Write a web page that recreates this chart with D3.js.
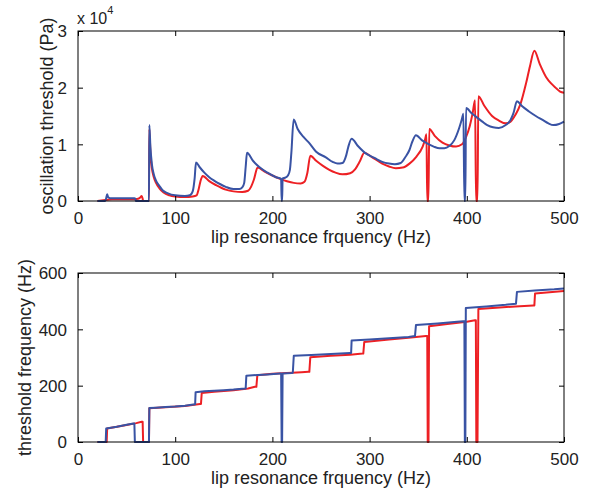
<!DOCTYPE html>
<html><head><meta charset="utf-8">
<script src="https://cdn.jsdelivr.net/npm/d3@7"></script>
<style>
html,body{margin:0;padding:0;background:#fff;}
text{font-family:"Liberation Sans",Arial,Helvetica,sans-serif;fill:#222;}
</style></head>
<body>
<svg id="chart" width="592" height="491"></svg>
<script>
// ---- data (frequency in Hz; threshold in units of 1e4 Pa) ----
const xTicks = [0, 100, 200, 300, 400, 500];
const yTicksTop = [0, 1, 2, 3];
const yTicksBottom = [0, 200, 400, 600];

const pressureBlue = [[20,0],[28,0],[29,0.05],[30,0.12],[31,0.07],[33,0.05],[45,0.05],[58,0.05],[59,0.04],[59.5,0],[73,0],[73.4,1.34],[74.5,0.95],[76,0.65],[78,0.47],[80,0.37],[84,0.26],[87,0.19],[92,0.14],[100,0.1],[110,0.09],[115,0.1],[118,0.17],[120,0.4],[121.4,0.68],[125,0.6],[130,0.5],[135,0.42],[140,0.36],[146,0.3],[152,0.25],[160,0.21],[166,0.21],[169,0.24],[171,0.32],[172.5,0.6],[173.9,0.85],[180,0.71],[186.5,0.6],[195,0.5],[203.7,0.42],[209,0.39],[209.5,0],[210,0],[210.5,0.4],[213,0.41],[216,0.45],[218,0.55],[219.5,0.85],[221.9,1.44],[226,1.27],[232,1.13],[238,1.02],[245,0.87],[255,0.77],[262,0.69],[267,0.66],[272,0.67],[276,0.81],[278,0.95],[281.5,1.10],[288,0.97],[296,0.84],[305,0.76],[313,0.69],[320,0.66],[326,0.65],[332,0.67],[337,0.78],[341,0.9],[344,1.05],[347.7,1.16],[354,1.07],[361,1.0],[366,0.96],[372,0.93],[377,0.93],[382,0.97],[387,1.07],[392,1.28],[395,1.45],[396.5,1.54],[397.5,0],[398.5,0],[399.2,1.64],[405,1.55],[410,1.48],[416,1.40],[421,1.34],[427,1.30],[433,1.29],[440,1.34],[445,1.43],[448,1.55],[451.6,1.76],[457,1.67],[464,1.58],[471,1.5],[478,1.43],[484,1.37],[489,1.34],[495,1.36],[500,1.40]];

const pressureRed = [[20,0],[30,0.02],[35,0.03],[55,0.03],[62,0.04],[64,0.06],[65.5,0.09],[66.5,0.04],[67,0],[73,0],[73.4,1.27],[74.5,0.85],[76,0.58],[78,0.42],[80,0.33],[84,0.22],[88,0.15],[94,0.1],[100,0.08],[110,0.07],[118,0.08],[122,0.1],[124,0.2],[126,0.35],[128.3,0.44],[135,0.35],[142,0.28],[152,0.2],[160,0.17],[169,0.16],[175,0.18],[178,0.25],[181,0.38],[184.8,0.59],[192,0.52],[200,0.45],[208,0.39],[215,0.35],[222,0.32],[229,0.31],[233,0.34],[236,0.5],[239,0.8],[245,0.71],[252,0.62],[258.6,0.55],[265,0.5],[272,0.47],[280,0.49],[285,0.56],[290,0.7],[294.6,0.85],[302,0.78],[313,0.66],[320,0.61],[327,0.58],[334,0.59],[341,0.66],[348,0.78],[354.6,0.96],[357,1.08],[358.5,1.18],[359.3,0],[360.5,0],[361.4,1.27],[367,1.15],[375,1.03],[382,0.98],[389,0.96],[395,1.0],[399,1.12],[403,1.32],[406,1.55],[408.5,1.78],[409.5,0],[411,0],[411.9,1.85],[418,1.68],[426,1.5],[433,1.42],[440,1.37],[445,1.4],[450,1.52],[455,1.7],[461,2.08],[465,2.38],[469.5,2.65],[475,2.42],[481.5,2.19],[487,2.07],[492,1.99],[496,1.93],[500,1.91]];

const freqBlue = [[20,0],[28.5,0],[29,48],[40,54],[50,61],[57,66],[58,66],[58.5,0],[73,0],[73.4,121],[80,122],[90,124],[100,126],[110,129],[118.6,133],[120.5,134],[121,177],[130,180],[140,182],[150,184],[160,186],[171.8,190],[172.5,190],[173.2,235],[185,238],[195,240],[207.8,243],[209,243],[209.5,0],[210,0],[210.5,243],[220,245],[221,246],[222,306],[240,309],[260,312],[279.8,316],[281,316],[281.5,360],[300,364],[320,368],[340,373],[346.7,376],[347.7,415],[370,421],[390,427],[396.4,429],[397.5,429],[398,0],[398.5,0],[399,476],[420,481],[440,487],[450.6,491],[451.6,533],[470,538],[490,542],[500,545]];

const freqRed = [[20,0],[29.5,0],[30,48],[40,54],[50,60],[60,67],[65.5,72],[66.5,72],[67,0],[73,0],[73.4,120],[90,123],[110,128],[125.5,135],[126.5,135],[127.3,174],[140,178],[160,184],[175,190],[182,196],[183.5,196],[184.5,237],[200,242],[215,245],[230,248],[237,249],[238,249],[239,301],[260,306],[280,310],[292.9,314],[293.5,314],[294.5,355],[320,364],[340,370],[358,376],[359.3,376],[359.8,0],[360.6,0],[361.2,411],[380,419],[400,427],[408.4,432],[409.3,432],[409.8,0],[411,0],[411.9,472],[430,477],[450,481],[468.4,485],[469.5,485],[470.2,527],[485,532],[500,536]];

const RED = "#ed2024", BLUE = "#3953a4";
const svg = d3.select("#chart");

function panel(top, bottom, yDomain, yTicks, series, yLabel, yLabelX, curve) {
  const L = 78, R = 564;
  const x = d3.scaleLinear().domain([0, 500]).range([L, R]);
  const y = d3.scaleLinear().domain(yDomain).range([bottom, top]);
  const g = svg.append("g");
  const line = d3.line().curve(curve).x(d => x(d[0])).y(d => y(d[1]));
  series.forEach(s => {
    g.append("path").datum(s.data).attr("d", line)
      .attr("fill", "none").attr("stroke", s.color).attr("stroke-width", 2)
      .attr("stroke-linejoin", "round");
  });
  g.append("rect").attr("x", L).attr("y", top).attr("width", R - L).attr("height", bottom - top)
    .attr("fill", "none").attr("stroke", "#000").attr("stroke-width", 1);
  const fs = "17px";
  const fmt = d3.format("d");
  const xb = g.append("g").attr("transform", `translate(0,${bottom})`)
    .call(d3.axisBottom(x).tickValues(xTicks).tickFormat(fmt).tickSizeInner(-5).tickSizeOuter(0).tickPadding(11));
  const xt = g.append("g").attr("transform", `translate(0,${top})`)
    .call(d3.axisTop(x).tickValues(xTicks).tickSizeInner(-5).tickSizeOuter(0).tickFormat(""));
  const yl = g.append("g").attr("transform", `translate(${L},0)`)
    .call(d3.axisLeft(y).tickValues(yTicks).tickFormat(fmt).tickSizeInner(-5).tickSizeOuter(0).tickPadding(11));
  const yr = g.append("g").attr("transform", `translate(${R},0)`)
    .call(d3.axisRight(y).tickValues(yTicks).tickSizeInner(-5).tickSizeOuter(0).tickFormat(""));
  [xb, xt, yl, yr].forEach(a => {
    a.select(".domain").remove();
    a.selectAll("line").attr("stroke", "#000");
    a.selectAll("text").attr("font-size", fs).attr("fill", "#222")
      .attr("font-family", '"Liberation Sans",Arial,sans-serif');
  });
  yl.selectAll("text").attr("dy", "0.35em");
  g.append("text").attr("x", (L + R) / 2).attr("y", bottom + 42)
    .attr("text-anchor", "middle").attr("font-size", "18px").text("lip resonance frquency (Hz)");
  g.append("text").attr("transform", `translate(${yLabelX},${(top + bottom) / 2}) rotate(-90)`)
    .attr("text-anchor", "middle").attr("font-size", "18px").text(yLabel);
}

panel(31, 201, [0, 3], yTicksTop,
  [{data: pressureRed, color: RED}, {data: pressureBlue, color: BLUE}],
  "oscillation threshold (Pa)", 53, d3.curveMonotoneX);
panel(273, 442, [0, 600], yTicksBottom,
  [{data: freqRed, color: RED}, {data: freqBlue, color: BLUE}],
  "threshold frequency (Hz)", 31, d3.curveLinear);

const ex = svg.append("text").attr("x", 77).attr("y", 24).attr("font-size", "16px");
ex.append("tspan").text("x 10");
ex.append("tspan").attr("dy", -10).attr("font-size", "11px").text("4");
</script>
</body></html>
